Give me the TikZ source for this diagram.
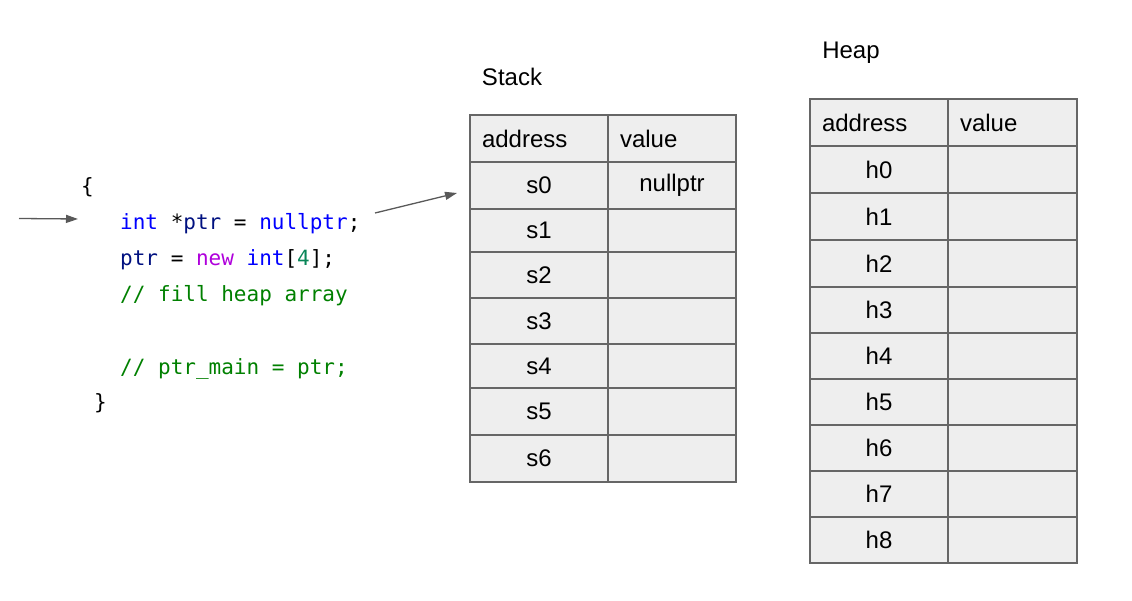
\documentclass[tikz,border=0pt]{standalone}
\usepackage{fontspec}
\setmainfont{Liberation Sans}
\setmonofont{DejaVu Sans Mono}
\usetikzlibrary{arrows.meta}
\definecolor{kw}{HTML}{0000FF}
\definecolor{var}{HTML}{001080}
\definecolor{ctl}{HTML}{AF00DB}
\definecolor{num}{HTML}{098658}
\definecolor{cmt}{HTML}{008000}
\definecolor{cellfill}{HTML}{EEEEEE}
\definecolor{cellline}{HTML}{666666}
\definecolor{arr}{HTML}{595959}
\begin{document}
\begin{tikzpicture}[x=1pt,y=-1pt,
  cellbox/.style={draw=cellline,fill=cellfill,line width=1.2pt,inner sep=0pt,outer sep=0pt,anchor=north west,font=\fontsize{24}{28}\selectfont},
  hdrbox/.style={cellbox,align=left,inner xsep=12pt},
  title/.style={font=\fontsize{24}{28}\selectfont,inner sep=0pt},
  codeline/.style={font=\ttfamily\fontsize{21}{25}\selectfont,anchor=base west,inner sep=0pt},
  ptrarrow/.style={draw=arr,line width=1.3pt,-{Triangle[length=12pt,width=8pt]}}]
\useasboundingbox (0,0) rectangle (1132,601);
% titles
\node[title] (stacktitle) at (512,77) {Stack};
\node[title] (heaptitle) at (851,53) {Heap};
% stack table
\node[hdrbox,minimum width=138pt,minimum height=47pt,text width=114pt] (sah) at (470,115) {address};
\node[hdrbox,minimum width=128pt,minimum height=47pt,text width=104pt] (svh) at (608,115) {value};
\foreach \t/\h/\lab/\val [count=\i from 0] in {162/47/s0/nullptr,209/43/s1/,252/46/s2/,298/46/s3/,344/44/s4/,388/47/s5/,435/47/s6/}{
  \node[cellbox,minimum width=138pt,minimum height=\h pt] (sa\i) at (470,\t) {\lab};
  \node[cellbox,minimum width=128pt,minimum height=\h pt] (sv\i) at (608,\t) {\val};
}
% heap table
\node[hdrbox,minimum width=138pt,minimum height=47pt,text width=114pt] (hah) at (810,99) {address};
\node[hdrbox,minimum width=129pt,minimum height=47pt,text width=105pt] (hvh) at (948,99) {value};
\foreach \t/\h [count=\i from 0] in {146/47,193/47,240/47,287/46,333/46,379/46,425/46,471/46,517/46}{
  \node[cellbox,minimum width=138pt,minimum height=\h pt] (ha\i) at (810,\t) {h\i};
  \node[cellbox,minimum width=129pt,minimum height=\h pt] (hv\i) at (948,\t) {};
}
% code
\node[codeline] (c0) at (81,194) {\{};
\node[codeline] (c1) at (120,230) {\textcolor{kw}{int} *\textcolor{var}{ptr} = \textcolor{kw}{nullptr};};
\node[codeline] (c2) at (120,266) {\textcolor{var}{ptr} = \textcolor{ctl}{new} \textcolor{kw}{int}[\textcolor{num}{4}];};
\node[codeline] (c3) at (120,302) {\textcolor{cmt}{// fill heap array}};
\node[codeline] (c5) at (120,374) {\textcolor{cmt}{// ptr\_main = ptr;}};
\node[codeline] (c6) at (94,409) {\}};
% arrows
\coordinate (pcstart) at (19,218.5);
\coordinate (pcend) at (78,219);
\draw[ptrarrow] (pcstart) -- (pcend);
\coordinate (decl) at (375,213);
\coordinate (stackpt) at (457,193);
\draw[ptrarrow] (decl) -- (stackpt);
\end{tikzpicture}
\end{document}
